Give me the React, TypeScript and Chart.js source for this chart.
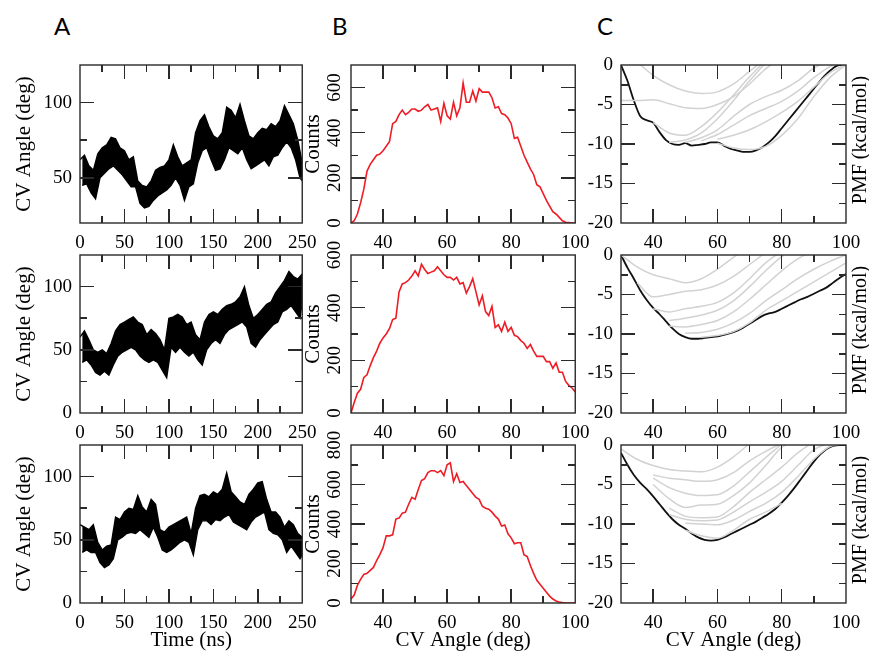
import React, { useEffect, useRef, useState } from 'react';
import { Chart, registerables } from 'chart.js';

Chart.register(...registerables);
Chart.defaults.font.family = '"Liberation Serif", "Times New Roman", serif';
Chart.defaults.color = '#000';

// ---------------- DATA ----------------
// Panel A: CV angle time series (envelope read at 5 ns steps: upper / lower edge of the noisy trace)
const TIME_STEP = 5;
const A1_HI = [62, 65, 58, 55, 66, 70, 72, 77, 76, 70, 68, 62, 64, 48, 45, 44, 48, 55, 57, 58, 62, 72, 64, 58, 60, 62, 80, 88, 92, 84, 78, 76, 80, 97, 95, 90, 99, 88, 78, 76, 80, 83, 82, 86, 84, 88, 98, 92, 86, 75, 60];
const A1_LO = [45, 46, 40, 36, 50, 53, 56, 58, 55, 52, 48, 44, 44, 33, 30, 31, 35, 38, 40, 42, 45, 50, 45, 35, 44, 46, 60, 68, 70, 62, 55, 56, 62, 70, 68, 66, 70, 62, 56, 58, 60, 62, 58, 64, 65, 70, 74, 70, 62, 50, 48];
const A2_HI = [60, 65, 58, 50, 48, 50, 47, 55, 65, 70, 72, 74, 76, 72, 70, 62, 66, 63, 58, 50, 75, 76, 78, 76, 70, 72, 62, 58, 72, 78, 80, 78, 82, 85, 86, 88, 92, 100, 85, 75, 78, 82, 86, 88, 95, 100, 105, 112, 108, 106, 110];
const A2_LO = [40, 42, 38, 32, 30, 33, 30, 38, 45, 48, 50, 52, 50, 45, 42, 40, 42, 40, 34, 28, 52, 48, 52, 48, 45, 48, 42, 38, 50, 55, 58, 55, 62, 66, 68, 70, 72, 68, 55, 52, 58, 62, 66, 70, 72, 80, 82, 85, 80, 75, 88];
const A3_HI = [62, 60, 58, 62, 48, 42, 45, 46, 68, 66, 72, 75, 74, 85, 76, 72, 82, 78, 58, 56, 60, 62, 64, 66, 68, 55, 75, 85, 86, 84, 88, 86, 90, 103, 88, 84, 80, 78, 86, 90, 95, 96, 82, 72, 72, 68, 60, 65, 62, 55, 52];
const A3_LO = [40, 42, 40, 40, 32, 28, 30, 35, 50, 52, 55, 56, 55, 58, 55, 52, 60, 52, 42, 40, 42, 45, 48, 50, 48, 38, 58, 65, 65, 62, 66, 65, 68, 70, 64, 62, 60, 58, 64, 68, 70, 72, 58, 55, 54, 50, 40, 45, 40, 35, 38];

// Panel B: histogram counts, one bin per degree from 30 to 100
const ANGLE_FIRST = 30;
const B1_COUNTS = [0, 10, 40, 90, 150, 230, 260, 280, 300, 305, 320, 340, 360, 440, 450, 480, 500, 480, 490, 505, 505, 495, 500, 515, 525, 500, 505, 510, 450, 530, 475, 460, 535, 475, 510, 620, 535, 535, 585, 540, 595, 580, 580, 580, 555, 510, 515, 485, 480, 465, 440, 375, 380, 340, 300, 270, 240, 215, 170, 160, 130, 100, 75, 50, 40, 25, 10, 3, 2, 0, 0];
const B2_COUNTS = [0, 40, 75, 90, 135, 145, 180, 210, 235, 265, 285, 300, 320, 355, 360, 460, 490, 495, 505, 520, 540, 520, 565, 545, 530, 535, 540, 555, 540, 525, 515, 515, 505, 515, 490, 495, 455, 480, 510, 460, 410, 445, 385, 370, 405, 325, 335, 310, 345, 310, 325, 295, 290, 275, 265, 245, 260, 235, 215, 215, 215, 195, 195, 170, 190, 155, 155, 120, 105, 95, 80];
const B3_COUNTS = [20, 40, 90, 120, 145, 150, 165, 180, 215, 245, 280, 340, 340, 345, 425, 430, 455, 460, 500, 535, 525, 575, 620, 630, 660, 670, 670, 660, 670, 645, 700, 710, 615, 655, 610, 615, 595, 575, 555, 535, 525, 490, 480, 475, 460, 440, 425, 390, 395, 350, 330, 300, 305, 305, 245, 235, 190, 150, 115, 95, 75, 55, 35, 20, 10, 5, 2, 0, 0, 0, 0];

// Panel C: final PMF (every 2 deg from 30 to 100)
const PMF_STEP = 2;
const C1_PMF = [0, -2.0, -4.5, -6.5, -7.0, -7.3, -8.5, -9.5, -10.0, -10.1, -9.9, -10.2, -10.1, -10.0, -9.8, -9.8, -10.2, -10.6, -10.8, -11.0, -11.0, -10.8, -10.4, -9.8, -9.0, -8.0, -7.0, -6.0, -5.0, -4.0, -3.0, -2.0, -1.1, -0.4, 0, 0];
const C2_PMF = [0, -1.6, -3.0, -4.5, -5.7, -6.7, -7.5, -8.4, -9.3, -10.0, -10.4, -10.6, -10.6, -10.5, -10.4, -10.3, -10.1, -9.9, -9.6, -9.2, -8.7, -8.2, -7.7, -7.4, -7.2, -6.8, -6.4, -6.0, -5.6, -5.3, -4.9, -4.5, -4.1, -3.5, -2.9, -2.4];
const C3_PMF = [-1.0, -2.5, -3.8, -4.8, -5.6, -6.5, -7.5, -8.5, -9.4, -10.1, -10.6, -11.2, -11.7, -12.0, -12.1, -12.0, -11.7, -11.3, -10.9, -10.5, -10.1, -9.7, -9.2, -8.7, -8.1, -7.3, -6.4, -5.4, -4.3, -3.2, -2.1, -1.2, -0.5, -0.1, 0, 0];

// Panel C: intermediate PMFs (grey), sampled every 5 deg
const GREY_ANGLES = [30, 35, 40, 45, 50, 55, 60, 65, 70, 75, 80, 85, 90, 95, 100];
const N = null;
const C1_GREY = [
  [N, 0.4, -1.3, -2.5, -3.3, -3.6, -3.4, -2.4, -0.8, 0.8, N, N, N, N, N],
  [-4.5, -4.5, -4.4, -4.9, -5.4, -5.5, -5.0, -4.0, -2.4, -0.5, 1.0, N, N, N, N],
  [N, N, -7.3, -8.6, -8.9, -7.8, -6.0, -3.8, -1.5, 0.6, N, N, N, N, N],
  [N, N, N, -9.8, -9.5, -8.6, -6.8, -4.5, -2.0, 0.3, N, N, N, N, N],
  [N, N, N, N, -9.8, -9.2, -8.2, -6.5, -5.0, -4.0, -3.2, -2.0, -0.4, 0.6, N],
  [N, N, N, N, N, -9.6, -8.8, -7.6, -6.4, -5.5, -4.6, -3.3, -1.6, -0.2, 0.6],
  [N, N, N, N, N, N, -9.4, -8.9, -8.2, -7.2, -6.0, -4.6, -2.8, -1.0, 0.1],
  [N, N, N, N, N, N, -9.9, -10.5, -10.7, -10.3, -8.9, -6.8, -4.0, -1.6, 0.0],
];
const C2_GREY = [
  [0, -1.5, -2.5, -3.0, -3.5, -3.0, -1.8, -0.3, 1.0, N, N, N, N, N, N],
  [N, -3.5, -5.3, -5.0, -4.6, -4.4, -3.8, -2.7, -1.2, 0.3, N, N, N, N, N],
  [N, N, -6.8, -7.2, -6.8, -6.5, -6.0, -4.8, -3.0, -1.0, 0.5, N, N, N, N],
  [N, N, N, -8.3, -8.0, -7.6, -7.0, -5.8, -4.0, -2.0, -0.2, 1.0, N, N, N],
  [N, N, N, -9.0, -9.1, -8.8, -8.3, -7.2, -5.6, -3.8, -2.0, -0.5, 0.6, N, N],
  [N, N, N, N, -9.9, -9.8, -9.4, -8.6, -7.4, -5.8, -4.4, -3.0, -1.8, -0.8, 0],
  [N, N, N, N, N, -10.4, -10.2, -9.7, -8.6, -7.0, -5.8, -4.6, -3.4, -2.2, -1.0],
];
const C3_GREY = [
  [-0.5, -1.8, -2.6, -3.1, -3.3, -3.4, -2.8, -1.5, 0.2, N, N, N, N, N, N],
  [N, N, -3.8, -4.2, -4.4, -4.6, -4.4, -3.5, -2.0, -0.8, 0.2, N, N, N, N],
  [N, N, -4.2, -5.4, -6.1, -6.4, -6.3, -5.2, -3.4, -1.6, 0.1, N, N, N, N],
  [N, N, -5.0, -6.8, -7.9, -7.6, -7.5, -6.4, -4.8, -2.6, -0.3, 0.5, N, N, N],
  [N, N, N, -8.0, -9.0, -9.2, -9.1, -7.8, -6.0, -4.4, -2.8, -1.0, 0.4, N, N],
  [N, N, N, -8.8, -9.4, -9.6, -9.5, -8.5, -7.2, -6.0, -4.6, -2.6, -0.6, 0.3, N],
  [N, N, N, N, -9.9, -10.0, -10.1, -9.5, -8.4, -7.4, -6.0, -4.0, -1.8, -0.2, 0.2],
  [N, N, N, N, -10.8, -11.5, -11.8, -10.8, -9.4, -8.5, -7.4, N, N, N, N],
];

// Axis labels
const TIME_TITLE = 'Time (ns)';
const ANGLE_TITLE = 'CV Angle (deg)';
const COUNTS_TITLE = 'Counts';
const PMF_TITLE = 'PMF (kcal/mol)';
const PANEL_LETTERS = ['A', 'B', 'C'];

// ---------------- LAYOUT / STYLE ----------------
const COL = [
  { left: 80, width: 223, ml: 80, mr: 22 },
  { left: 351, width: 225, ml: 52, mr: 22 },
  { left: 621, width: 225, ml: 42, mr: 23 },
];
const ROW_TOP = [65, 255, 445];
const BOX_H = 158;
const MT = 20;
const MB = [30, 30, 50];
const LETTER_X = [54, 332, 597];
const TICK_FONT = 19;
const TITLE_FONT = 21;
const FRAME_COLOR = '#2a2a2a';
const GREY = '#d2d2d2';
const RED = '#ee1c24';
const MAJOR_LEN = 14;
const MINOR_LEN = 7;
const TICK_W = 1.5;

const near = (v: number, step: number) => Math.abs(v / step - Math.round(v / step)) < 1e-6;

type Axis = { min: number; max: number; minor: number; major: number };
type Rect = { l: number; t: number; w: number; h: number };

const framePlugin = (rightTitle?: string) => ({
  id: 'frameBox',
  afterDraw(chart: any) {
    const ctx = chart.ctx;
    const area = chart.chartArea;
    ctx.save();
    ctx.strokeStyle = FRAME_COLOR;
    ctx.lineWidth = 1.4;
    ctx.strokeRect(area.left, area.top, area.right - area.left, area.bottom - area.top);
    if (rightTitle) {
      ctx.translate(area.right + 15, (area.top + area.bottom) / 2 - 4);
      ctx.rotate(-Math.PI / 2);
      ctx.fillStyle = '#000';
      ctx.font = `${TITLE_FONT - 1}px "Liberation Serif", serif`;
      ctx.textAlign = 'center';
      ctx.textBaseline = 'middle';
      ctx.fillText(rightTitle, 0, 0);
    }
    ctx.restore();
  },
});

// Inward tick marks on all four sides, positioned with the chart's own scales and ticks
function computeTickRects(chart: any, ax: Axis, ay: Axis): Rect[] {
  const out: Rect[] = [];
  const area = chart.chartArea;
  const xs = chart.scales.x;
  const ys = chart.scales.y;
  (xs.ticks || []).forEach((t: any) => {
    const v = Number(t.value);
    if (!near(v, ax.minor) || v <= ax.min || v >= ax.max) return;
    const p = xs.getPixelForValue(v);
    const len = near(v, ax.major) ? MAJOR_LEN : MINOR_LEN;
    out.push({ l: p - TICK_W / 2, t: area.bottom - len, w: TICK_W, h: len });
    out.push({ l: p - TICK_W / 2, t: area.top, w: TICK_W, h: len });
  });
  (ys.ticks || []).forEach((t: any) => {
    const v = Number(t.value);
    if (!near(v, ay.minor) || v <= ay.min || v >= ay.max) return;
    const p = ys.getPixelForValue(v);
    const len = near(v, ay.major) ? MAJOR_LEN : MINOR_LEN;
    out.push({ l: area.left, t: p - TICK_W / 2, w: len, h: TICK_W });
    out.push({ l: area.right - len, t: p - TICK_W / 2, w: len, h: TICK_W });
  });
  return out;
}

function buildConfig(p: any) {
  const ax: Axis = p.x;
  const ay: Axis = p.y;
  const c = COL[p.col];
  const row = p.row;
  return {
    type: 'line',
    data: { datasets: p.datasets },
    plugins: [framePlugin(p.rightTitle)],
    options: {
      responsive: false,
      animation: false,
      events: [],
      layout: { padding: { top: MT, right: c.mr, left: 0, bottom: 0 } },
      elements: { point: { radius: 0 } },
      plugins: { legend: { display: false }, tooltip: { enabled: false } },
      scales: {
        x: {
          type: 'linear', position: 'bottom', min: ax.min, max: ax.max,
          afterFit: (s: any) => { s.height = MB[row]; },
          grid: { display: false, drawTicks: false }, border: { display: false },
          ticks: {
            stepSize: ax.minor, autoSkip: false, maxRotation: 0, minRotation: 0, padding: 8.5,
            font: { size: TICK_FONT }, color: '#000',
            callback: (v: number) => (near(v, ax.major) ? String(v) : ''),
          },
          title: { display: !!p.xTitle, text: p.xTitle || '', font: { size: TITLE_FONT }, color: '#000', padding: { top: 0, bottom: 0 } },
        },
        y: {
          type: 'linear', position: 'left', min: ay.min, max: ay.max,
          afterFit: (s: any) => { s.width = c.ml; },
          grid: { display: false, drawTicks: false }, border: { display: false },
          ticks: {
            stepSize: ay.minor, autoSkip: false,
            minRotation: p.rotY ? 90 : 0, maxRotation: p.rotY ? 90 : 0,
            crossAlign: p.rotY ? 'center' : 'near',
            padding: p.rotY ? 2 : 8,
            font: { size: TICK_FONT }, color: '#000',
            callback: (v: number) => (near(v, ay.major) ? String(v) : ''),
          },
          title: { display: !!p.yTitle, text: p.yTitle || '', font: { size: TITLE_FONT }, color: '#000', padding: { top: p.yTitlePad || 0, bottom: 0 } },
        },
      },
    },
  };
}

const hiPoints = (arr: number[]) => arr.map((v, k) => ({ x: k * TIME_STEP, y: v }));
const loPoints = (arr: number[]) => arr.map((v, k) => ({ x: Math.min(k * TIME_STEP + TIME_STEP / 2, 250), y: v }));
const countsPoints = (arr: number[]) => arr.map((v, i) => ({ x: ANGLE_FIRST + i, y: v }));
const pmfPoints = (arr: number[]) => arr.map((v, i) => ({ x: ANGLE_FIRST + i * PMF_STEP, y: v }));
const greyPoints = (arr: (number | null)[]) => GREY_ANGLES.map((a, i) => ({ x: a, y: arr[i] }));

const timeAxis: Axis = { min: 0, max: 250, minor: 25, major: 50 };
const angleAxis: Axis = { min: 30, max: 100, minor: 10, major: 20 };
const pmfAxis: Axis = { min: -20, max: 0, minor: 2.5, major: 5 };

const A_SETS: any[] = [[A1_HI, A1_LO, 20], [A2_HI, A2_LO, 0], [A3_HI, A3_LO, 0]];
const B_SETS: any[] = [[B1_COUNTS, 700], [B2_COUNTS, 600], [B3_COUNTS, 800]];
const C_SETS: any[] = [[C1_PMF, C1_GREY], [C2_PMF, C2_GREY], [C3_PMF, C3_GREY]];

const PANELS: any[] = [];
for (let r = 0; r < 3; r++) {
  PANELS.push({
    col: 0, row: r, x: timeAxis, y: { min: A_SETS[r][2], max: 125, minor: 25, major: 50 },
    xTitle: r === 2 ? TIME_TITLE : '', yTitle: ANGLE_TITLE, yTitlePad: 11.5,
    datasets: [
      { data: hiPoints(A_SETS[r][0]), borderColor: '#000', borderWidth: 1.4, tension: 0, fill: false, borderJoinStyle: 'miter' },
      { data: loPoints(A_SETS[r][1]), borderColor: '#000', borderWidth: 1.4, tension: 0, fill: '-1', backgroundColor: '#000', borderJoinStyle: 'miter' },
    ],
  });
  PANELS.push({
    col: 1, row: r, x: angleAxis, y: { min: 0, max: B_SETS[r][1], minor: 100, major: 200 }, rotY: true,
    xTitle: r === 2 ? ANGLE_TITLE : '', yTitle: COUNTS_TITLE, yTitlePad: 1.5,
    datasets: [{ data: countsPoints(B_SETS[r][0]), borderColor: RED, borderWidth: 1.6, tension: 0 }],
  });
  PANELS.push({
    col: 2, row: r, x: angleAxis, y: pmfAxis, rightTitle: PMF_TITLE,
    xTitle: r === 2 ? ANGLE_TITLE : '',
    datasets: [
      ...C_SETS[r][1].map((g: any) => ({ data: greyPoints(g), borderColor: GREY, borderWidth: 1.5, cubicInterpolationMode: 'monotone', spanGaps: false })),
      { data: pmfPoints(C_SETS[r][0]), borderColor: '#111', borderWidth: 1.8, cubicInterpolationMode: 'monotone' },
    ],
  });
}

function Panel({ spec }: { spec: any }) {
  const ref = useRef<HTMLCanvasElement>(null);
  const [ticks, setTicks] = useState<Rect[]>([]);
  const c = COL[spec.col];
  const w = c.width + c.ml + c.mr;
  const h = BOX_H + MT + MB[spec.row];
  const left = c.left - c.ml;
  const top = ROW_TOP[spec.row] - MT;
  useEffect(() => {
    const chart = new Chart(ref.current as HTMLCanvasElement, buildConfig(spec) as any);
    setTicks(computeTickRects(chart, spec.x, spec.y));
    return () => chart.destroy();
  }, []);
  return (
    <>
      <canvas ref={ref} width={w} height={h}
        style={{ position: 'absolute', left, top, width: w, height: h }} />
      {ticks.map((r, i) => (
        <div key={i} style={{ position: 'absolute', left: left + r.l, top: top + r.t, width: r.w, height: r.h, background: FRAME_COLOR, pointerEvents: 'none' }} />
      ))}
    </>
  );
}

export default function App() {
  return (
    <div style={{ position: 'absolute', left: 0, top: 0, width: 869, height: 654, overflow: 'hidden', background: '#fff' }}>
      {PANEL_LETTERS.map((L, i) => (
        <div key={L} style={{ position: 'absolute', left: LETTER_X[i], top: 14, fontFamily: 'Lato, "Open Sans", sans-serif', fontSize: 24, lineHeight: '24px', color: '#000' }}>{L}</div>
      ))}
      {PANELS.map((p, i) => <Panel key={i} spec={p} />)}
    </div>
  );
}
